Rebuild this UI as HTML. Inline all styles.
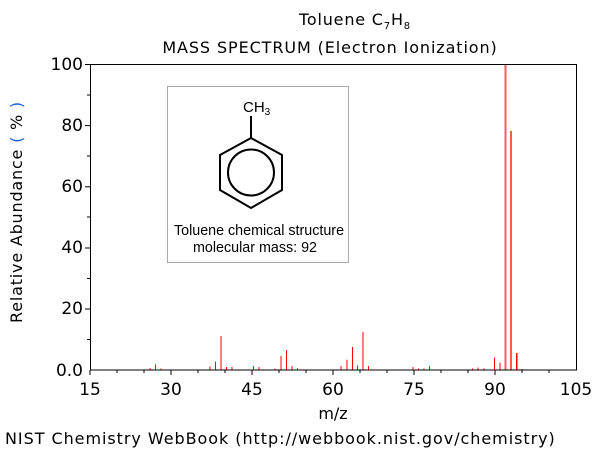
<!DOCTYPE html>
<html><head><meta charset="utf-8"><style>
html,body{margin:0;padding:0;background:#fff;}
svg{display:block;font-family:"DejaVu Sans","Liberation Sans",sans-serif;}
</style></head><body>
<svg width="600" height="450" viewBox="0 0 600 450" xmlns="http://www.w3.org/2000/svg">
<text x="355" y="25" font-size="16" letter-spacing="0.8" text-anchor="middle">Toluene  C<tspan font-size="10" dy="4">7</tspan><tspan dy="-4">H</tspan><tspan font-size="10" dy="4">8</tspan></text>
<text x="330" y="53" font-size="16" letter-spacing="0.9" text-anchor="middle">MASS SPECTRUM (Electron Ionization)</text>
<g fill="#f00">
<rect x="149.5" y="368" width="1" height="2"/>
<rect x="155" y="364.5" width="1" height="5.5"/>
<rect x="160.5" y="368.5" width="1" height="1.5"/>
<rect x="209.5" y="366.5" width="1" height="3.5"/>
<rect x="215" y="361.7" width="1" height="8.3"/>
<rect x="220.5" y="336" width="1" height="34"/>
<rect x="226" y="367" width="1" height="3"/>
<rect x="231.5" y="367" width="1" height="3"/>
<rect x="253" y="366" width="1" height="4"/>
<rect x="258.5" y="367" width="1" height="3"/>
<rect x="274.5" y="368.5" width="1" height="1.5"/>
<rect x="280.5" y="356" width="1" height="14"/>
<rect x="286" y="350" width="1" height="20"/>
<rect x="291.5" y="366" width="1" height="4"/>
<rect x="297" y="368.2" width="1" height="1.8"/>
<rect x="340.5" y="366" width="1" height="4"/>
<rect x="346.5" y="359.6" width="1" height="10.4"/>
<rect x="352" y="347" width="1" height="23"/>
<rect x="357" y="365.4" width="1" height="4.6"/>
<rect x="362.5" y="332" width="1" height="38"/>
<rect x="368" y="366" width="1" height="4"/>
<rect x="412.5" y="367" width="1" height="3"/>
<rect x="418" y="368.5" width="1" height="1.5"/>
<rect x="423.5" y="368.5" width="1" height="1.5"/>
<rect x="429" y="366.3" width="1" height="3.7"/>
<rect x="472" y="368.5" width="1" height="1.5"/>
<rect x="477.5" y="367.5" width="1" height="2.5"/>
<rect x="483.5" y="368.2" width="1" height="1.8"/>
<rect x="494" y="357.6" width="1" height="12.4"/>
<rect x="499.5" y="362.6" width="1" height="7.4"/>
<rect x="516" y="353" width="1.5" height="17"/>
<rect x="521.5" y="369" width="1" height="1"/>
</g>
<g fill="#ff5a5a">
<rect x="504.5" y="65" width="2" height="305"/>
<rect x="510" y="131" width="2" height="239"/>
</g>
<rect x="90.5" y="64.5" width="486" height="305.5" fill="none" stroke="#000" stroke-width="1"/>
<g stroke="#000" stroke-width="1">
<line x1="90" y1="370" x2="90" y2="375"/><line x1="117" y1="370" x2="117" y2="373"/><line x1="144" y1="370" x2="144" y2="373"/>
<line x1="171" y1="370" x2="171" y2="375"/><line x1="198" y1="370" x2="198" y2="373"/><line x1="225" y1="370" x2="225" y2="373"/>
<line x1="252" y1="370" x2="252" y2="375"/><line x1="279" y1="370" x2="279" y2="373"/><line x1="306" y1="370" x2="306" y2="373"/>
<line x1="333" y1="370" x2="333" y2="375"/><line x1="360" y1="370" x2="360" y2="373"/><line x1="387" y1="370" x2="387" y2="373"/>
<line x1="414" y1="370" x2="414" y2="375"/><line x1="441" y1="370" x2="441" y2="373"/><line x1="468" y1="370" x2="468" y2="373"/>
<line x1="495" y1="370" x2="495" y2="375"/><line x1="522" y1="370" x2="522" y2="373"/><line x1="549" y1="370" x2="549" y2="373"/>
<line x1="85" y1="64.5" x2="90" y2="64.5"/><line x1="87" y1="95" x2="90" y2="95"/><line x1="85" y1="125.6" x2="90" y2="125.6"/>
<line x1="87" y1="156" x2="90" y2="156"/><line x1="85" y1="186.8" x2="90" y2="186.8"/><line x1="87" y1="217" x2="90" y2="217"/>
<line x1="85" y1="248" x2="90" y2="248"/><line x1="87" y1="278.5" x2="90" y2="278.5"/><line x1="85" y1="309" x2="90" y2="309"/>
<line x1="87" y1="339.5" x2="90" y2="339.5"/>
</g>
<g font-size="17" text-anchor="middle">
<text x="90" y="395">15</text><text x="171" y="395">30</text><text x="252" y="395">45</text><text x="333" y="395">60</text>
<text x="414" y="395">75</text><text x="495" y="395">90</text><text x="576" y="395">105</text>
</g>
<g font-size="17" text-anchor="end">
<text x="83" y="70">100</text><text x="83" y="131">80</text><text x="83" y="192">60</text><text x="83" y="253">40</text>
<text x="83" y="314">20</text><text x="83" y="376">0.0</text>
</g>
<text x="333" y="419" font-size="16" text-anchor="middle">m/z</text>
<text transform="translate(22,212) rotate(-90)" font-size="16" letter-spacing="0.8" text-anchor="middle">Relative  Abundance <tspan fill="#1a5fd0">(</tspan> % <tspan fill="#1a5fd0">)</tspan></text>
<text x="5" y="444" font-size="16" letter-spacing="0.95">NIST Chemistry WebBook (http://webbook.nist.gov/chemistry)</text>
<rect x="167.5" y="86.5" width="181" height="176" fill="#fff" stroke="#aaa" stroke-width="1"/>
<text x="243" y="112" font-family="Liberation Sans, sans-serif" font-size="15">CH<tspan font-size="10" dy="3">3</tspan></text>
<g stroke="#000" stroke-width="2" fill="none">
<line x1="251" y1="116" x2="251" y2="138"/>
<polygon points="251,138 282,155 282,190 251,208 220,190 220,155"/>
<circle cx="251" cy="172.5" r="23"/>
</g>
<g font-family="Liberation Sans, sans-serif" font-size="14.3" text-anchor="middle">
<text x="259" y="235">Toluene chemical structure</text>
<text x="255" y="252">molecular mass: 92</text>
</g>
</svg>
</body></html>
